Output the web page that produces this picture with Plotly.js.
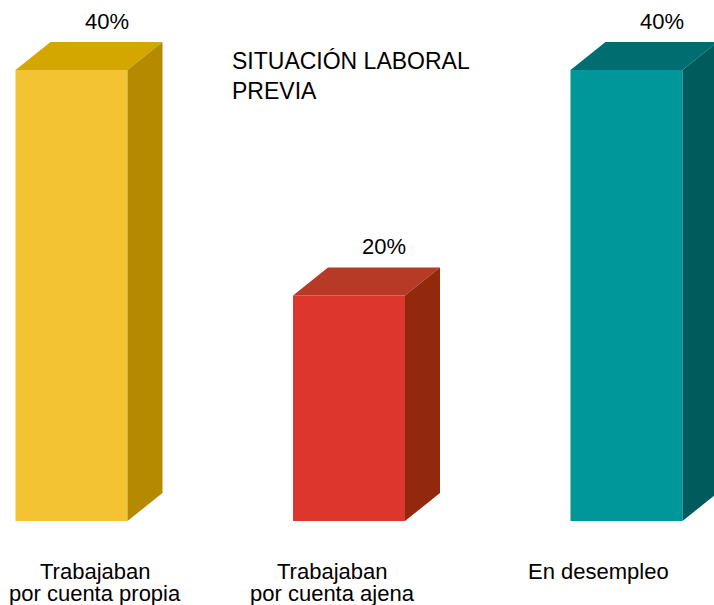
<!DOCTYPE html>
<html>
<head>
<meta charset="utf-8">
<script src="https://cdn.plot.ly/plotly-3.0.1.min.js"></script>
<style>
  html, body { margin: 0; padding: 0; background: #ffffff; }
  #chart { width: 714px; height: 605px; }
</style>
</head>
<body>
<div id="chart"></div>
<script>
// ---- data ----
const categories = ["Trabajaban<br>por cuenta propia", "Trabajaban<br>por cuenta ajena", "En desempleo"];
const values = [40, 20, 40];
const valueLabels = ["40%", "20%", "40%"];
const chartTitle = "SITUACIÓN LABORAL<br>PREVIA";

// ---- styles ----
const frontColors = ["#F3C334", "#DD372D", "#00979A"];
const topColors   = ["#D3A600", "#B73A27", "#006E71"];
const sideColors  = ["#B68A00", "#92280C", "#005B5C"];
const labelShift  = [23, -17, -28];   // px horizontal shift of category labels
const pxPerX = 277.5, pxPerY = 451 / 40;
const barW = 112 / pxPerX;
const dx = 35 / pxPerX, dy = 28 / pxPerY;
const FONT = "Liberation Sans, Arial, sans-serif";
const TXT = "#000000";

const xs = values.map((_, i) => i);
const traces = [];

traces.push({
  type: "bar", x: xs, y: values, width: barW,
  marker: { color: frontColors, line: { width: 0 } },
  hoverinfo: "skip", showlegend: false
});

values.forEach((v, i) => {
  const l = i - barW / 2, r = i + barW / 2;
  traces.push({
    type: "scatter", mode: "lines", fill: "toself",
    x: [l, r, r + dx, l + dx, l],
    y: [v, v, v + dy, v + dy, v],
    fillcolor: topColors[i], line: { width: 0, color: topColors[i] },
    hoverinfo: "skip", showlegend: false
  });
  traces.push({
    type: "scatter", mode: "lines", fill: "toself",
    x: [r, r + dx, r + dx, r, r],
    y: [0, dy, v + dy, v, 0],
    fillcolor: sideColors[i], line: { width: 0, color: sideColors[i] },
    hoverinfo: "skip", showlegend: false
  });
});

const annotations = [];
values.forEach((v, i) => {
  annotations.push({
    x: i + dx, y: v + dy, xref: "x", yref: "y",
    text: valueLabels[i], showarrow: false,
    xanchor: "center", yanchor: "middle", yshift: 21,
    font: { family: FONT, size: 22, color: TXT }
  });
  const lines = categories[i].split("<br>");
  lines.forEach((t, k) => {
    annotations.push({
      x: i, y: 0, xref: "x", yref: "y",
      text: t, showarrow: false,
      xanchor: "center", yanchor: "middle", borderpad: 0,
      xshift: labelShift[i], yshift: -(50 + 22 * k),
      font: { family: FONT, size: 22, color: TXT }
    });
  });
});

const layout = {
  width: 714, height: 605,
  margin: { l: 0, r: 0, t: 0, b: 84, pad: 0 },
  paper_bgcolor: "#ffffff", plot_bgcolor: "#ffffff",
  title: {
    text: chartTitle,
    x: 232 / 714, xanchor: "left", xref: "container",
    y: 1 - 69 / 605, yanchor: "top", yref: "container",
    font: { family: FONT, size: 23, color: TXT }
  },
  xaxis: {
    range: [-71.5 / pxPerX, (714 - 71.5) / pxPerX],
    visible: false, fixedrange: true
  },
  yaxis: {
    range: [0, 521 / pxPerY],
    visible: false, fixedrange: true
  },
  annotations: annotations,
  showlegend: false
};

Plotly.newPlot("chart", traces, layout, { staticPlot: true, displayModeBar: false });
</script>
</body>
</html>
